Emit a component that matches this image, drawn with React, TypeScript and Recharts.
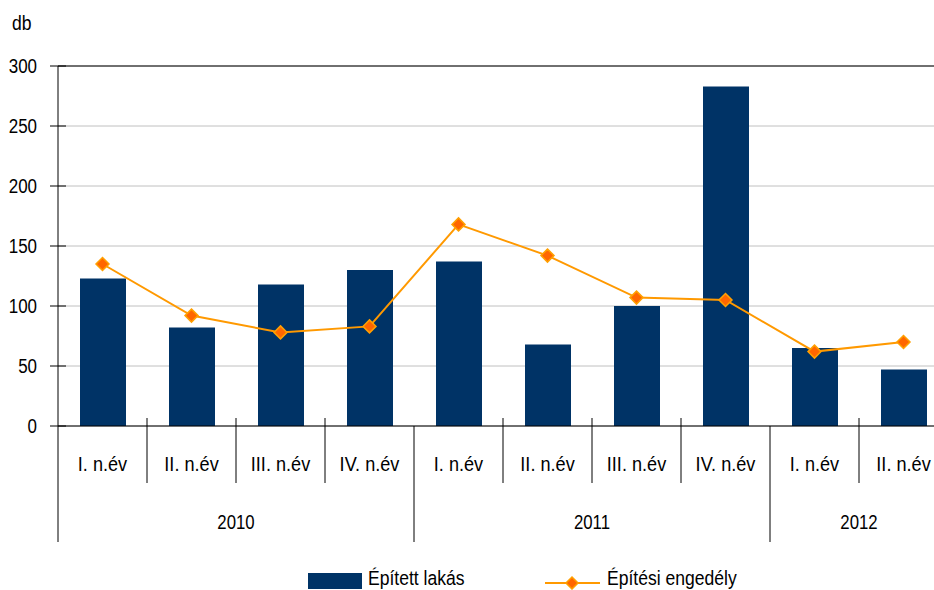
import React from "react";
import {
  Bar,
  CartesianGrid,
  ComposedChart,
  Line,
  ReferenceLine,
  XAxis,
  YAxis,
} from "recharts";

const quarters = [
  "I. n.év",
  "II. n.év",
  "III. n.év",
  "IV. n.év",
  "I. n.év",
  "II. n.év",
  "III. n.év",
  "IV. n.év",
  "I. n.év",
  "II. n.év",
];
const years = ["2010", "2010", "2010", "2010", "2011", "2011", "2011", "2011", "2012", "2012"];
const epitettLakas = [123, 82, 118, 130, 137, 68, 100, 283, 65, 47];
const epitesiEngedely = [135, 92, 78, 83, 168, 142, 107, 105, 62, 70];
const yTicks = [0, 50, 100, 150, 200, 250, 300];

const data = quarters.map((q, i) => ({
  key: String(i),
  lakas: epitettLakas[i],
  engedely: epitesiEngedely[i],
}));

const FONT = "'Liberation Sans', Arial, sans-serif";
const CHART_W = 960;
const Y_W = 58;
const M_RIGHT = 12;
const BAND = (CHART_W - Y_W - M_RIGHT) / quarters.length;
const AXIS_Y = 426;

// condensed text (the original font is narrower than Liberation Sans)
const T = ({ x, y, size, sx, anchor, children }: any) => (
  <text
    transform={`translate(${x},${y}) scale(${sx},1)`}
    textAnchor={anchor}
    dominantBaseline="central"
    fontSize={size}
    fontFamily={FONT}
    fill="#000"
  >
    {children}
  </text>
);

const XTick = (props: any) => {
  const { x, index } = props;
  const left = x - BAND / 2;
  const first = index === 0 || years[index] !== years[index - 1];
  let yearLabel = null;
  if (first) {
    const n = years.filter((y) => y === years[index]).length;
    yearLabel = (
      <T x={left + (n * BAND) / 2} y={522} size={20} sx={0.84} anchor="middle">
        {years[index]}
      </T>
    );
  }
  return (
    <g>
      <line
        x1={left}
        x2={left}
        y1={first ? AXIS_Y : AXIS_Y - 8}
        y2={first ? 542 : 483}
        stroke="#000"
        strokeWidth={1}
      />
      <T x={x} y={464} size={19.5} sx={0.93} anchor="middle">
        {quarters[index]}
      </T>
      {yearLabel}
    </g>
  );
};

const YTick = (props: any) => {
  const { y, payload } = props;
  return (
    <g>
      <line x1={Y_W - 8} x2={Y_W + 8} y1={y} y2={y} stroke="#000" strokeWidth={1} />
      <T x={37} y={y} size={19.5} sx={0.87} anchor="end">
        {payload.value}
      </T>
    </g>
  );
};

const Diamond = (props: any) => {
  const { cx, cy } = props;
  if (cx == null || cy == null) return null;
  const r = 6.5;
  return (
    <path
      d={`M${cx},${cy - r} L${cx + r},${cy} L${cx},${cy + r} L${cx - r},${cy} Z`}
      fill="#FF6600"
      stroke="#FFA000"
      strokeWidth={1.5}
    />
  );
};

export default function App() {
  return (
    <div
      style={{
        position: "fixed",
        left: 0,
        top: 0,
        width: 934,
        height: 590,
        overflow: "hidden",
        background: "#fff",
      }}
    >
      <ComposedChart
        width={CHART_W}
        height={590}
        data={data}
        margin={{ top: 66, right: M_RIGHT, left: 0, bottom: 0 }}
        barSize={46}
      >
        <CartesianGrid vertical={false} stroke="#c0c0c0" />
        <XAxis
          dataKey="key"
          height={164}
          axisLine={{ stroke: "#000" }}
          tickLine={false}
          tick={<XTick />}
          interval={0}
        />
        <YAxis
          width={Y_W}
          domain={[0, 300]}
          ticks={yTicks}
          axisLine={{ stroke: "#000" }}
          tickLine={false}
          tick={<YTick />}
        />
        <ReferenceLine y={300} stroke="#000" />
        <Bar dataKey="lakas" fill="#003366" isAnimationActive={false} />
        <Line
          dataKey="engedely"
          stroke="#FF9900"
          strokeWidth={2}
          dot={<Diamond />}
          activeDot={false}
          isAnimationActive={false}
        />
      </ComposedChart>
      <svg
        width={934}
        height={590}
        style={{ position: "absolute", left: 0, top: 0, pointerEvents: "none" }}
      >
        <T x={12} y={23} size={19.5} sx={0.9} anchor="start">
          db
        </T>
        <rect x={308} y={573} width={54} height={16} fill="#003366" />
        <T x={368} y={578} size={19.5} sx={0.9} anchor="start">
          Épített lakás
        </T>
        <line x1={545} x2={600} y1={583} y2={583} stroke="#FF9900" strokeWidth={2} />
        <path d="M572,577 L578,583 L572,589 L566,583 Z" fill="#FF6600" stroke="#FFA000" strokeWidth={1.5} />
        <T x={607} y={578} size={19.5} sx={0.9} anchor="start">
          Építési engedély
        </T>
      </svg>
    </div>
  );
}
